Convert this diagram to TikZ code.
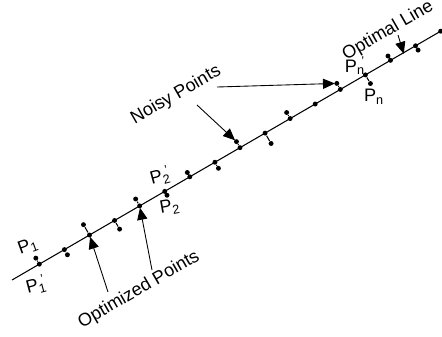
\documentclass[tikz,border=0pt]{standalone}
\usepackage{fontspec}
\setmainfont{Liberation Sans}
\usetikzlibrary{arrows.meta, calc}

\newcommand{\plbl}[1]{P\textsubscript{#1}}
\newcommand{\plblp}[1]{P\textsubscript{#1}\kern-0.2em\textsuperscript{'}}

\begin{document}
\begin{tikzpicture}[
  x=0.02cm, y=-0.02cm,
  font=\fontsize{10.3}{12}\selectfont,
  line width=0.6pt,
  dot/.style={circle, fill=black, inner sep=0pt, minimum size=2.8pt},
  ptr/.style={-{Triangle[length=6.8pt, width=5.8pt]}, line width=0.5pt, shorten >=-0.6pt},
  lbl/.style={inner sep=0pt},
  txt/.style={inner sep=0pt, rotate=30},
]
  \useasboundingbox (0,0) rectangle (442,336);

  % --- Optimal line ---
  \coordinate (start) at (12,280);
  \coordinate (end) at (441,31);
  \draw (start) -- (end);

  % optimized points on the line
  \foreach \k in {0,...,16}
    \node[dot] (o\k) at ($(start)!{(31.6+29*\k)/496}!(end)$) {};

  % noisy points (offset across the line, negative = above)
  \foreach \k/\d in {0/-7, 1/6, 2/-12, 3/10, 4/-8, 5/4.5, 6/-5, 7/7,
                     8/-7, 9/12, 10/-7, 12/-7, 13/10, 14/-5, 15/5} {
    \node[dot] (n\k) at ($(o\k)!{\d*0.02cm}!-90:(end)$) {};
    \draw (o\k) -- (n\k);
  }

  % --- Point labels ---
  \node[lbl, rotate=20] (p1) at (28,246) {\plbl{1}};
  \node[lbl, rotate=15] (p1p) at (36,285) {\plblp{1}};
  \node[lbl, rotate=15] (p2p) at (160,176) {\plblp{2}};
  \node[lbl, rotate=10] (p2) at (170,207) {\plbl{2}};
  \node[lbl] (pnp) at (355,66) {\plblp{n}};
  \node[lbl] (pn) at (374,97) {\plbl{n}};

  % --- Captions ---
  \node[txt] (optpts) at (139,290) {Optimized Points};
  \node[txt] (noisy) at (176,95) {Noisy Points};
  \node[txt] (optline) at (388,31) {Optimal Line};

  % --- Pointers ---
  \coordinate (optA) at (108,292);
  \coordinate (optB) at (152,270);
  \draw[ptr] (optA) -- (o2);
  \draw[ptr] (optB) -- (o4);

  \coordinate (noisyA) at (197,105);
  \coordinate (noisyB) at (217,87);
  \draw[ptr] (noisyA) -- (n8);
  \draw[ptr] (noisyB) -- (n12);

  \coordinate (lineA) at (398,35);
  \coordinate (lineB) at ($(start)!452.6/496!(end)$);
  \draw[ptr] (lineA) -- (lineB);

\end{tikzpicture}
\end{document}
